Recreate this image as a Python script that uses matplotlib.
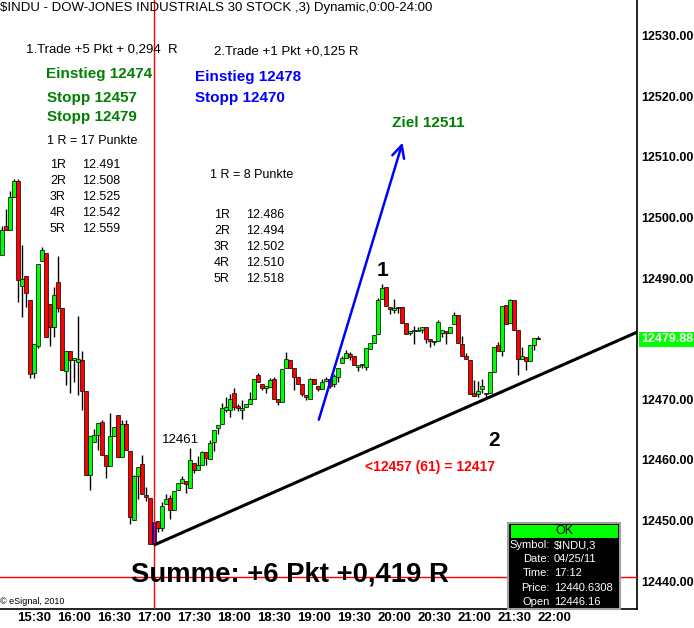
import matplotlib
matplotlib.use('Agg')
import matplotlib.pyplot as plt
from matplotlib.patches import Rectangle

plt.rcParams['font.family'] = ['Liberation Sans', 'DejaVu Sans']

# 3 minute bars of $INDU, 04/25/11, first bar 15:06
opens = [12493.9, 12498.6, 12498.0, 12503.4, 12506.0, 12488.7, 12490.3, 12486.4, 12474.4, 12478.8,
         12492.9, 12494.1, 12485.8, 12482.0, 12489.3, 12485.0, 12474.7, 12478.0, 12476.5, 12476.1,
         12476.5, 12471.4, 12457.5, 12463.0, 12464.1, 12466.3, 12460.8, 12459.0, 12463.9, 12467.4,
         12460.5, 12466.0, 12461.5, 12450.1, 12457.4, 12459.3, 12454.2, 12453.8, 12446.16, 12449.9,
         12448.8, 12452.7, 12453.8, 12451.7, 12455.0, 12456.2, 12456.6, 12455.3, 12459.5, 12458.4,
         12459.1, 12461.3, 12460.1, 12463.0, 12465.2, 12466.0, 12468.3, 12468.3, 12471.0, 12468.9,
         12468.3, 12468.8, 12469.2, 12470.0, 12474.0, 12472.5, 12471.9, 12472.1, 12473.4, 12470.1,
         12469.6, 12475.1, 12476.5, 12475.2, 12473.7, 12472.6, 12470.7, 12470.0, 12473.3, 12472.2,
         12471.7, 12473.1, 12473.4, 12472.5, 12473.7, 12476.0, 12476.9, 12477.4, 12477.1, 12475.3,
         12475.6, 12475.4, 12478.3, 12479.3, 12480.7, 12486.5, 12488.5, 12485.2, 12484.8, 12485.3,
         12485.2, 12482.6, 12480.9, 12481.3, 12481.2, 12481.4, 12481.9, 12479.9, 12479.5, 12479.7,
         12481.0, 12481.3, 12481.0, 12482.4, 12483.9, 12479.1, 12477.1, 12476.5, 12471.1, 12470.9,
         12471.7, 12470.9, 12471.0, 12474.5, 12478.9, 12478.0, 12485.5, 12482.6, 12486.4, 12481.4,
         12476.7, 12477.0, 12476.4, 12478.9, 12480.0]
highs = [12498.6, 12501.4, 12504.4, 12506.3, 12506.3, 12495.4, 12490.3, 12486.4, 12479.2, 12492.3,
         12495.1, 12494.1, 12485.8, 12488.6, 12493.6, 12485.0, 12478.0, 12478.0, 12476.9, 12483.7,
         12478.0, 12471.4, 12463.9, 12465.1, 12466.1, 12466.6, 12460.8, 12467.7, 12465.5, 12467.4,
         12466.6, 12466.6, 12461.5, 12457.5, 12458.8, 12460.8, 12455.6, 12453.8, 12452.3, 12449.9,
         12453.1, 12454.4, 12454.2, 12454.9, 12456.2, 12457.4, 12456.6, 12461.9, 12459.5, 12460.6,
         12461.5, 12461.3, 12463.3, 12464.9, 12465.7, 12469.4, 12470.4, 12470.8, 12471.9, 12469.2,
         12469.9, 12469.2, 12471.2, 12473.4, 12474.3, 12472.5, 12472.2, 12473.5, 12473.7, 12470.1,
         12475.0, 12477.8, 12476.5, 12475.2, 12473.7, 12472.6, 12470.7, 12473.5, 12473.3, 12472.2,
         12473.4, 12473.7, 12473.4, 12474.1, 12475.2, 12477.1, 12478.1, 12477.8, 12477.1, 12475.6,
         12475.9, 12478.4, 12479.3, 12480.6, 12486.7, 12489.0, 12488.5, 12485.2, 12486.5, 12485.3,
         12485.2, 12482.6, 12481.3, 12482.1, 12482.0, 12482.0, 12481.9, 12479.9, 12479.6, 12483.1,
         12481.4, 12481.3, 12482.0, 12484.4, 12483.9, 12480.4, 12477.6, 12476.5, 12473.2, 12473.1,
         12473.3, 12471.1, 12474.5, 12478.6, 12479.5, 12485.4, 12485.5, 12486.6, 12486.4, 12481.4,
         12478.7, 12477.0, 12479.0, 12480.2, 12480.4]
lows = [12493.9, 12498.0, 12498.0, 12503.4, 12486.1, 12483.6, 12485.3, 12473.5, 12473.6, 12478.4,
        12492.9, 12480.3, 12478.8, 12480.3, 12484.4, 12474.8, 12472.3, 12471.1, 12472.8, 12470.7,
        12468.3, 12457.5, 12455.1, 12463.0, 12461.7, 12460.8, 12457.1, 12459.0, 12463.9, 12460.5,
        12460.5, 12461.6, 12449.5, 12450.1, 12453.5, 12454.3, 12453.3, 12446.2, 12446.0, 12448.1,
        12448.3, 12452.7, 12450.2, 12451.7, 12455.0, 12456.2, 12454.5, 12455.3, 12457.9, 12458.4,
        12459.1, 12459.1, 12460.1, 12461.5, 12464.2, 12466.0, 12467.9, 12467.1, 12468.3, 12468.0,
        12466.8, 12468.8, 12469.2, 12470.0, 12472.8, 12471.5, 12471.0, 12472.1, 12470.1, 12469.0,
        12469.6, 12475.1, 12475.1, 12471.6, 12472.6, 12470.5, 12469.9, 12470.0, 12472.5, 12471.4,
        12471.7, 12473.1, 12471.9, 12472.0, 12472.9, 12476.0, 12476.9, 12476.5, 12475.6, 12474.7,
        12475.1, 12474.8, 12478.3, 12479.3, 12480.7, 12486.5, 12485.4, 12484.0, 12484.2, 12484.3,
        12482.6, 12480.8, 12480.6, 12479.2, 12481.2, 12480.9, 12479.3, 12478.6, 12478.9, 12479.7,
        12480.3, 12479.2, 12481.0, 12482.4, 12479.3, 12477.1, 12476.7, 12470.9, 12470.6, 12470.4,
        12471.0, 12470.4, 12471.0, 12474.5, 12478.0, 12477.1, 12482.4, 12482.6, 12481.5, 12474.0,
        12476.7, 12474.8, 12476.4, 12478.2, 12479.9]
closes = [12498.0, 12498.0, 12503.4, 12506.0, 12489.7, 12489.8, 12487.5, 12474.1, 12479.2, 12492.3,
          12494.6, 12480.3, 12482.0, 12487.2, 12485.0, 12474.8, 12478.0, 12476.5, 12476.9, 12476.7,
          12471.4, 12457.5, 12463.9, 12464.1, 12466.1, 12460.8, 12459.0, 12463.9, 12465.5, 12460.5,
          12466.0, 12461.6, 12450.6, 12457.4, 12458.8, 12454.3, 12453.9, 12446.2, 12449.8, 12448.8,
          12452.4, 12453.6, 12451.7, 12454.9, 12456.2, 12456.8, 12456.0, 12460.0, 12458.4, 12459.1,
          12461.3, 12460.3, 12462.8, 12464.9, 12465.7, 12468.5, 12468.8, 12470.1, 12468.8, 12468.5,
          12468.6, 12469.2, 12470.0, 12473.4, 12472.8, 12471.9, 12472.2, 12473.2, 12470.1, 12469.6,
          12475.0, 12476.6, 12475.1, 12473.7, 12472.6, 12470.9, 12470.4, 12473.3, 12472.5, 12471.7,
          12472.9, 12473.4, 12472.2, 12473.8, 12475.2, 12476.9, 12477.6, 12477.0, 12475.6, 12475.6,
          12475.9, 12478.4, 12479.3, 12480.6, 12486.4, 12488.3, 12485.4, 12484.9, 12485.1, 12485.0,
          12482.6, 12480.8, 12481.3, 12481.5, 12481.4, 12482.0, 12479.9, 12479.6, 12479.6, 12482.8,
          12481.4, 12480.9, 12482.0, 12483.9, 12479.3, 12477.1, 12476.7, 12470.9, 12470.6, 12471.4,
          12472.2, 12471.1, 12474.5, 12478.6, 12478.0, 12485.4, 12482.4, 12486.4, 12481.5, 12476.6,
          12477.1, 12476.4, 12478.9, 12480.2, 12479.88]

first_bar = '15:06'
bar_step = 3
selected_bar = 38   # bar under the cursor, drawn in blue

# 12480 is hidden behind the last price marker
price_ticks = [12440, 12450, 12460, 12470, 12490, 12500, 12510, 12520, 12530]
time_ticks = ['15:30', '16:00', '16:30', '17:00', '17:30', '18:00', '18:30',
              '19:00', '19:30', '20:00', '20:30', '21:00', '21:30', '22:00']
last_price = 12479.88
cursor_time = '17:00'
cursor_price = 12440.6308

trend_times = ['17:01', '23:05']
trend_prices = [12446.05, 12481.35]
arrow_times = ['19:03', '20:07']
arrow_prices = [12466.2, 12512.8]

info_labels = ['Symbol:', 'Date:', 'Time:', 'Price:', 'Open']
info_values = ['$INDU,3', '04/25/11', '17:12', '12440.6308', '12446.16']

trade1_r = ['1R', '2R', '3R', '4R', '5R']
trade1_levels = ['12.491', '12.508', '12.525', '12.542', '12.559']
trade2_levels = ['12.486', '12.494', '12.502', '12.510', '12.518']


def to_min(s):
    h, m = s.split(':')
    return int(h) * 60 + int(m)


W, H = 694, 628
def fx(x):
    return x / W
def fy(y):
    return 1 - y / H


t0 = to_min(first_bar)
times = [t0 + bar_step * i for i in range(len(opens))]

fig = plt.figure(figsize=(W / 100, H / 100), dpi=100)
ax = fig.add_axes([0, fy(609), fx(637), 609 / H])
ax.set_xlim(904.5, 1382.25)
ax.set_ylim(12435.4, 12535.9)

# wicks
wick_colors = ['black'] * len(opens)
wick_colors[selected_bar] = '#00ffff'
ax.vlines(times, lows, highs, colors=wick_colors, linewidth=1, zorder=2)

# bodies
body_colors = []
for o, c in zip(opens, closes):
    body_colors.append('#00ff00' if c >= o else '#ff0000')
body_colors[selected_bar] = '#0000ff'
bottoms = [min(o, c) for o, c in zip(opens, closes)]
heights = [max(abs(c - o), 0.2) for o, c in zip(opens, closes)]
ax.bar(times, heights, bottom=bottoms, width=2.3, color=body_colors,
       edgecolor='black', linewidth=0.5, zorder=3)

# crosshair
ax.axvline(to_min(cursor_time), color='red', linewidth=1, zorder=4)
ax.axhline(cursor_price, color='red', linewidth=1, zorder=4)

# trend line
ax.plot([to_min(t) for t in trend_times], trend_prices, color='black', linewidth=2.2, zorder=5)

# target arrow
ax.annotate('', xy=(to_min(arrow_times[1]), arrow_prices[1]),
            xytext=(to_min(arrow_times[0]), arrow_prices[0]),
            arrowprops=dict(arrowstyle='->', color='#0000ff', lw=1.8,
                            mutation_scale=22), zorder=5)

# axes look
for s in ['left', 'top']:
    ax.spines[s].set_visible(False)
ax.spines['right'].set_linewidth(1.2)
ax.spines['bottom'].set_linewidth(1.2)
ax.yaxis.tick_right()
ax.set_yticks(price_ticks)
ax.set_yticklabels(['%.2f' % p for p in price_ticks], fontsize=9, fontweight='bold')
ax.set_xticks([to_min(t) for t in time_ticks])
ax.set_xticklabels(time_ticks, fontsize=9.5, fontweight='bold')
ax.tick_params(axis='y', length=0, pad=3)
ax.tick_params(axis='x', length=0, pad=2)

ax.text(1.006, last_price, '%.2f' % last_price, transform=ax.get_yaxis_transform(),
        color='white', fontsize=9, fontweight='bold', va='center', ha='left',
        bbox=dict(boxstyle='square,pad=0.15', fc='#00ff00', ec='none'), clip_on=False, zorder=6)

# texts
fig.text(fx(0), fy(8), '$INDU - DOW-JONES INDUSTRIALS 30 STOCK ,3) Dynamic,0:00-24:00',
         fontsize=9.5, va='center', ha='left')
fig.text(fx(26), fy(50), '1.Trade +5 Pkt + 0,294  R', fontsize=9.5, va='center')
fig.text(fx(214), fy(51), '2.Trade +1 Pkt +0,125 R', fontsize=9.5, va='center')

green = '#008000'
blue = '#0000ff'
fig.text(fx(46), fy(74), 'Einstieg 12474', fontsize=11, fontweight='bold', color=green, va='center')
fig.text(fx(47), fy(98), 'Stopp 12457', fontsize=11, fontweight='bold', color=green, va='center')
fig.text(fx(47), fy(117), 'Stopp 12479', fontsize=11, fontweight='bold', color=green, va='center')
fig.text(fx(195), fy(77), 'Einstieg 12478', fontsize=11, fontweight='bold', color=blue, va='center')
fig.text(fx(195), fy(98), 'Stopp 12470', fontsize=11, fontweight='bold', color=blue, va='center')

fig.text(fx(47), fy(141), '1 R = 17 Punkte', fontsize=9, va='center')
for i, (r, v) in enumerate(zip(trade1_r, trade1_levels)):
    fig.text(fx(50), fy(165 + 16 * i), r, fontsize=9, va='center')
    fig.text(fx(82), fy(165 + 16 * i), v, fontsize=9, va='center')

fig.text(fx(210), fy(175), '1 R = 8 Punkte', fontsize=9, va='center')
for i, (r, v) in enumerate(zip(trade1_r, trade2_levels)):
    fig.text(fx(214), fy(215 + 16.1 * i), r, fontsize=9, va='center')
    fig.text(fx(246), fy(215 + 16.1 * i), v, fontsize=9, va='center')

fig.text(fx(392), fy(123), 'Ziel 12511', fontsize=11, fontweight='bold', color=green, va='center')
fig.text(fx(382), fy(270), '1', fontsize=15, fontweight='bold', va='center', ha='center')
fig.text(fx(494), fy(440), '2', fontsize=15, fontweight='bold', va='center', ha='center')
fig.text(fx(162), fy(440), '12461', fontsize=9.5, va='center')
fig.text(fx(365), fy(467), '<12457 (61) = 12417', fontsize=10, fontweight='bold', color='#ff0000', va='center')
fig.text(fx(131), fy(575), 'Summe: +6 Pkt +0,419 R', fontsize=19.8, fontweight='bold', va='center', zorder=10)
fig.text(fx(0), fy(601), '\u00a9 eSignal, 2010', fontsize=6.5, va='center')

# cursor info window
fig.patches.append(Rectangle((fx(508), fy(609)), fx(112), 86 / H, transform=fig.transFigure,
                             fc='black', ec='#a0a0a0', lw=1.5, zorder=8))
fig.patches.append(Rectangle((fx(511), fy(538)), fx(107), 13 / H, transform=fig.transFigure,
                             fc='#00ff00', ec='none', zorder=9))
fig.text(fx(564), fy(531), 'OK', fontsize=9, ha='center', va='center', zorder=10)
for i, (lab, val) in enumerate(zip(info_labels, info_values)):
    fig.text(fx(550), fy(545 + 14.2 * i), lab, fontsize=8, color='white', ha='right', va='center', zorder=10)
    fig.text(fx(554), fy(545 + 14.2 * i), val, fontsize=8, color='white', ha='left', va='center', zorder=10)

fig.savefig('out.png', dpi=100, facecolor='white')
